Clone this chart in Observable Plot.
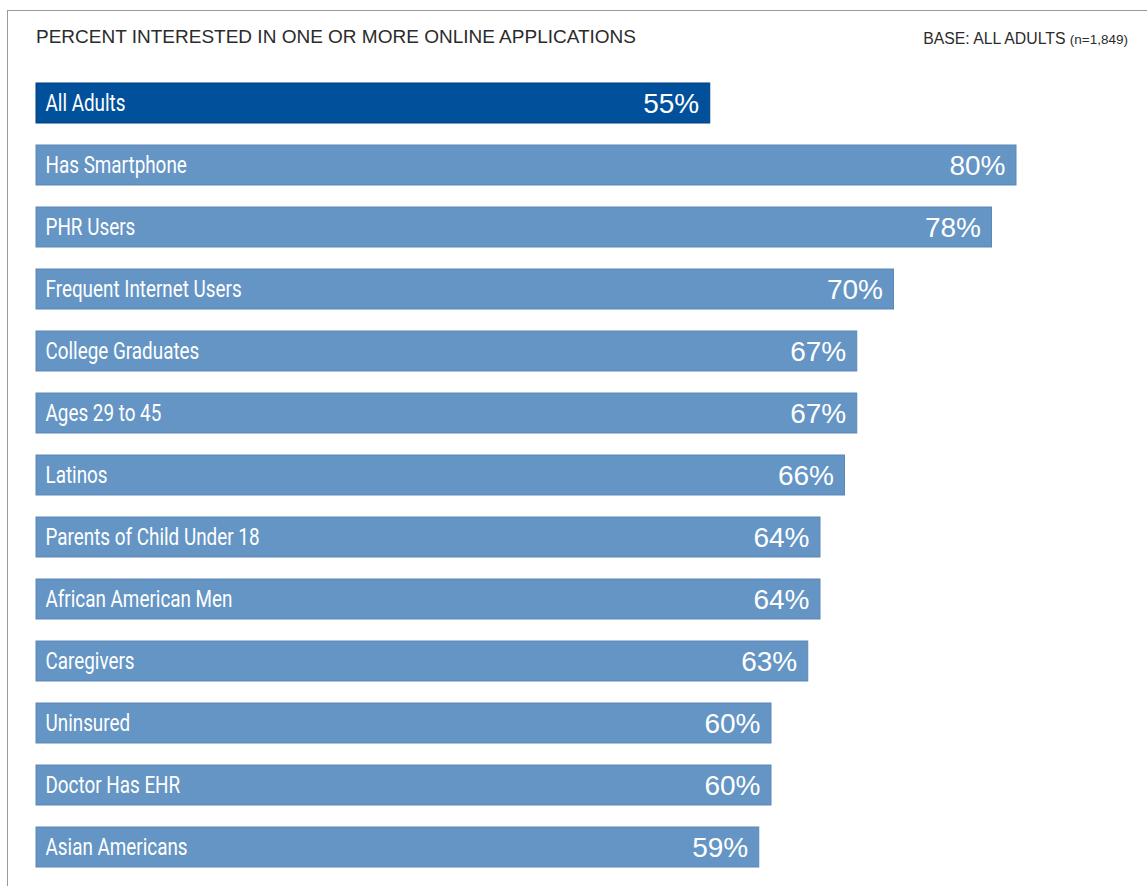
<!DOCTYPE html>
<html>
<head>
<meta charset="utf-8">
<script src="https://cdn.jsdelivr.net/npm/d3@7"></script>
<script src="https://cdn.jsdelivr.net/npm/@observablehq/plot@0.6"></script>
<style>
  html, body { margin: 0; padding: 0; background: #fff; }
  #frame { position: absolute; left: 7px; top: 10px; width: 1140px; height: 876px;
           border-top: 1.5px solid #9a9a9a; border-left: 1.5px solid #9a9a9a; }
  #header { position: relative; height: 70px; }
  #title { position: absolute; left: 36px; top: 26px; font-family: "Liberation Sans", Arial, sans-serif;
           font-size: 19px; color: #2b2b2b; }
  #base { position: absolute; right: 19px; top: 30px; font-family: "Liberation Sans", Arial, sans-serif;
          font-size: 15.8px; color: #2b2b2b; }
  #base small { font-size: 13.5px; }
  #chart svg { display: block; }
</style>
</head>
<body>
<div id="frame"></div>
<div id="header">
  <div id="title">PERCENT INTERESTED IN ONE OR MORE ONLINE APPLICATIONS</div>
  <div id="base">BASE: ALL ADULTS <small>(n=1,849)</small></div>
</div>
<div id="chart"></div>
<script>
const categories = ["All Adults", "Has Smartphone", "PHR Users", "Frequent Internet Users",
  "College Graduates", "Ages 29 to 45", "Latinos", "Parents of Child Under 18",
  "African American Men", "Caregivers", "Uninsured", "Doctor Has EHR", "Asian Americans"];
const values = [55, 80, 78, 70, 67, 67, 66, 64, 64, 63, 60, 60, 59];
const highlight = ["All Adults"];

const data = categories.map((c, i) => ({category: c, value: values[i], hi: highlight.includes(c)}));

const chart = Plot.plot({
  width: 1147,
  height: 816,
  margin: 0,
  x: {type: "linear", domain: [0, 100], range: [36, 36 + 1225], axis: null},
  y: {type: "band", domain: categories, range: [13, 797], paddingInner: 0.355, paddingOuter: 0, round: false, axis: null},
  marks: [
    Plot.barX(data, {
      x: "value", y: "category",
      fill: d => d.hi ? "#00509b" : "#6495c4",
      stroke: d => d.hi ? "#003f7d" : "#5a88b8",
      strokeWidth: 1
    }),
    Plot.text(data, {
      x: 0, y: "category", text: "category",
      textAnchor: "start", dx: 9, dy: 0,
      fill: "white", fontSize: 23,
      fontFamily: "Roboto, sans-serif",
      className: "cat-label"
    }),
    Plot.text(data, {
      x: "value", y: "category", text: d => d.value + "%",
      textAnchor: "end", dx: -11, dy: 1,
      fill: "white", fontSize: 28,
      fontFamily: "'Liberation Sans', Arial, sans-serif"
    })
  ]
});
document.getElementById("chart").appendChild(chart);
// condense category labels horizontally (condensed face not installed)
chart.querySelectorAll(".cat-label text").forEach(t => {
  const len = t.getComputedTextLength();
  t.setAttribute("textLength", (len * 0.82).toFixed(1));
  t.setAttribute("lengthAdjust", "spacingAndGlyphs");
});
</script>
</body>
</html>
